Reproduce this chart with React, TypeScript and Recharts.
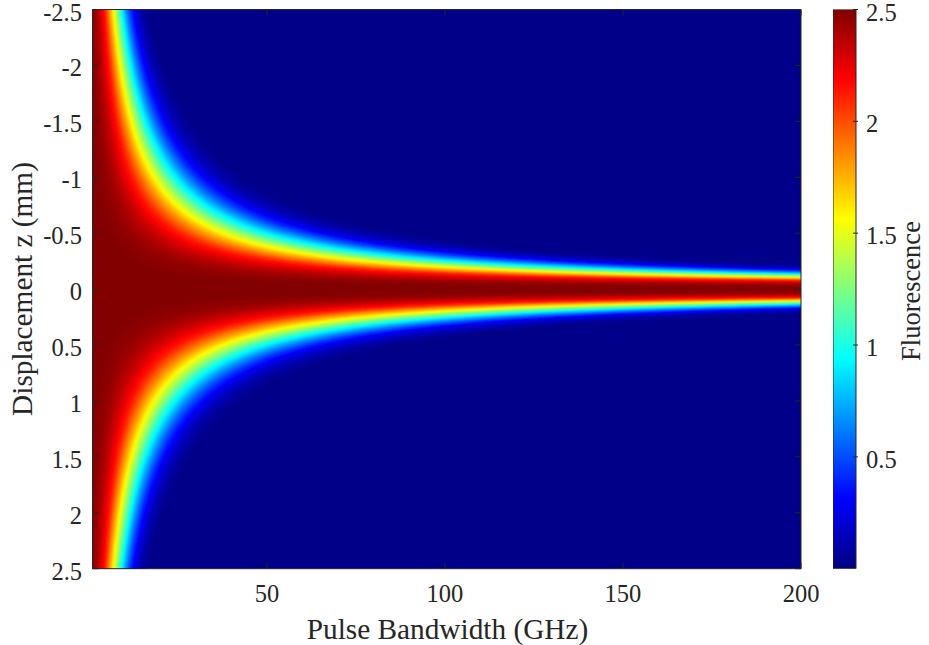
import React from "react";
import {
  Area,
  Bar,
  BarChart,
  CartesianGrid,
  ComposedChart,
  Label,
  ReferenceLine,
  XAxis,
  YAxis,
} from "recharts";

// Sampled pulse bandwidths (GHz) along the horizontal axis
const bandwidthGHz = [
  1, 1.5, 2, 2.5, 3, 3.5, 4, 4.5, 5, 6, 7, 8, 9, 10, 11, 12, 14, 16, 18, 20, 23,
  26, 30, 35, 40, 45, 50, 60, 70, 80, 90, 100, 115, 130, 150, 175, 200,
];

// Half-width (mm) of the yellow (~1.56) fluorescence contour at each bandwidth
const halfWidthMm = [
  9.6, 7.68, 6.4, 5.49, 4.8, 4.27, 3.84, 3.49, 3.2, 2.74, 2.4, 2.13, 1.92,
  1.745, 1.6, 1.477, 1.28, 1.129, 1.011, 0.914, 0.8, 0.711, 0.619, 0.533, 0.468,
  0.417, 0.376, 0.315, 0.27, 0.237, 0.211, 0.19, 0.1655, 0.1466, 0.1272, 0.1091,
  0.0955,
];

// Axial profile: fluorescence level and where it sits, relative to the yellow half-width
const fluorescenceLevels = [
  0.04, 0.08, 0.12, 0.16, 0.2, 0.24, 0.28, 0.32, 0.36, 0.4, 0.44, 0.48, 0.52,
  0.56, 0.6, 0.64, 0.68, 0.72, 0.76, 0.8, 0.84, 0.88, 0.92, 0.96, 1.0, 1.04,
  1.08, 1.12, 1.16, 1.2, 1.24, 1.28, 1.32, 1.36, 1.4, 1.44, 1.48, 1.52, 1.56,
  1.6, 1.64, 1.68, 1.72, 1.76, 1.8, 1.84, 1.88, 1.92, 1.96, 2.0, 2.02, 2.04,
  2.06, 2.08, 2.1, 2.12, 2.14, 2.16, 2.18, 2.2, 2.22, 2.24, 2.26, 2.28, 2.3,
  2.32, 2.34, 2.36, 2.38, 2.4, 2.42, 2.44, 2.46, 2.48, 2.49,
];
const levelOffset = [
  2.235, 2.088, 1.993, 1.921, 1.862, 1.811, 1.766, 1.725, 1.688, 1.653, 1.621,
  1.59, 1.561, 1.534, 1.507, 1.481, 1.457, 1.433, 1.409, 1.386, 1.364, 1.342,
  1.321, 1.3, 1.279, 1.258, 1.238, 1.218, 1.198, 1.178, 1.158, 1.139, 1.119,
  1.099, 1.08, 1.06, 1.04, 1.02, 1.0, 0.98, 0.959, 0.939, 0.918, 0.896, 0.875,
  0.853, 0.83, 0.807, 0.783, 0.758, 0.745, 0.732, 0.719, 0.706, 0.692, 0.678,
  0.663, 0.648, 0.633, 0.617, 0.6, 0.583, 0.565, 0.546, 0.526, 0.505, 0.483,
  0.459, 0.433, 0.404, 0.371, 0.333, 0.287, 0.221, 0.171,
];

const bandwidthTicks = [50, 100, 150, 200];
const displacementTicks = [-2.5, -2, -1.5, -1, -0.5, 0, 0.5, 1, 1.5, 2, 2.5];
const colorbarTicks = [0.5, 1, 1.5, 2, 2.5];

const C_MIN = 0;
const C_MAX = 2.5;

const AXIS = "#262626";
const FONT = '"Liberation Serif", "Times New Roman", serif';
const TICK_FONT = 24.5;
const TITLE_FONT = 29.3;
const BAR_TITLE_FONT = 26.5;

// plot box in page pixels
const PLOT = { left: 92.5, right: 801, top: 9.5, bottom: 568.7 };
const W = 929;
const H = 645;

// MATLAB-style jet colormap, t in [0, 1]
const jet = (t: number) => {
  const ch = (x: number) =>
    Math.round(255 * Math.min(1, Math.max(0, 1.5 - Math.abs(x))));
  return `rgb(${ch(4 * t - 3)},${ch(4 * t - 2)},${ch(4 * t - 1)})`;
};
// each band is painted with the colour halfway up to the next level
const bandColor = (k: number) => {
  const lo = fluorescenceLevels[k];
  const hi = k + 1 < fluorescenceLevels.length ? fluorescenceLevels[k + 1] : C_MAX;
  return jet(((lo + hi) / 2 - C_MIN) / (C_MAX - C_MIN));
};

// one row per bandwidth, one [low, high] band per contour level
const heatRows = bandwidthGHz.map((bw, i) => {
  const row: Record<string, number | number[]> = { bw };
  levelOffset.forEach((u, k) => {
    const h = +(u * halfWidthMm[i]).toFixed(4);
    row[`c${k}`] = [-h, h];
  });
  return row;
});

const colorbarRows = [{ name: "scale", value: C_MAX }];

const BandwidthTick = (props: any) => {
  const { x, payload } = props;
  return (
    <g>
      <line x1={x} x2={x} y1={PLOT.bottom} y2={PLOT.bottom - 6} stroke={AXIS} />
      <line x1={x} x2={x} y1={PLOT.top} y2={PLOT.top + 6} stroke={AXIS} />
      <text
        x={x}
        y={PLOT.bottom + 33}
        textAnchor="middle"
        fontSize={TICK_FONT}
        fontFamily={FONT}
        fill={AXIS}
      >
        {payload.value}
      </text>
    </g>
  );
};

const DisplacementTick = (props: any) => {
  const { y, payload } = props;
  return (
    <g>
      <line x1={PLOT.left} x2={PLOT.left + 6} y1={y} y2={y} stroke={AXIS} />
      <line x1={PLOT.right} x2={PLOT.right - 6} y1={y} y2={y} stroke={AXIS} />
      <text
        x={82}
        y={y + 11}
        textAnchor="end"
        fontSize={TICK_FONT}
        fontFamily={FONT}
        fill={AXIS}
      >
        {payload.value}
      </text>
    </g>
  );
};

const ColorbarTick = (props: any) => {
  const { x, y, payload } = props;
  return (
    <g>
      <line x1={x} x2={x - 5} y1={y} y2={y} stroke={AXIS} />
      <text
        x={x + 8}
        y={y + 11}
        textAnchor="start"
        fontSize={TICK_FONT}
        fontFamily={FONT}
        fill={AXIS}
      >
        {payload.value}
      </text>
    </g>
  );
};

const scaleStops = [0, 1 / 8, 3 / 8, 5 / 8, 7 / 8, 1];

export default function App() {
  return (
    <div
      style={{
        position: "absolute",
        left: 0,
        top: 0,
        width: W,
        height: H,
        background: "#fff",
      }}
    >
      <style>{`.heat-band .recharts-area-area { filter: url(#heatSoft); }`}</style>
      <svg width={0} height={0} style={{ position: "absolute" }}>
        <defs>
          <filter
            id="heatSoft"
            filterUnits="userSpaceOnUse"
            x={0}
            y={0}
            width={W}
            height={H}
          >
            <feGaussianBlur stdDeviation={1.1} />
          </filter>
          <linearGradient id="jetScale" x1="0" y1="1" x2="0" y2="0">
            {scaleStops.map((t) => (
              <stop key={t} offset={t} stopColor={jet(t)} />
            ))}
          </linearGradient>
        </defs>
      </svg>

      <div style={{ position: "absolute", left: 0, top: 0 }}>
        <ComposedChart
          width={W}
          height={H}
          data={heatRows}
          margin={{ top: PLOT.top, right: W - PLOT.right, bottom: H - PLOT.bottom - 30, left: PLOT.left - 60 }}
        >
          <CartesianGrid
            horizontal={false}
            vertical={false}
            fill={jet(0.008)}
            fillOpacity={1}
          />
          {fluorescenceLevels.map((level, k) => (
            <Area
              key={level}
              className="heat-band"
              dataKey={`c${k}`}
              type="monotone"
              stroke="none"
              fill={bandColor(k)}
              fillOpacity={1}
              dot={false}
              activeDot={false}
              isAnimationActive={false}
            />
          ))}
          <XAxis
            dataKey="bw"
            type="number"
            domain={[1, 200]}
            ticks={bandwidthTicks}
            allowDataOverflow
            height={30}
            tickSize={0}
            tickLine={false}
            axisLine={{ stroke: AXIS }}
            tick={<BandwidthTick />}
          >
            <Label
              content={() => (
                <text
                  x={447.5}
                  y={639}
                  textAnchor="middle"
                  fontSize={TITLE_FONT}
                  fontFamily={FONT}
                  fill={AXIS}
                >
                  Pulse Bandwidth (GHz)
                </text>
              )}
            />
          </XAxis>
          <YAxis
            type="number"
            domain={[-2.5, 2.5]}
            reversed
            allowDataOverflow
            ticks={displacementTicks}
            width={60}
            tickSize={0}
            tickLine={false}
            axisLine={{ stroke: AXIS }}
            tick={<DisplacementTick />}
          >
            <Label
              content={() => (
                <text
                  x={31.5}
                  y={289}
                  transform="rotate(-90 31.5 289)"
                  textAnchor="middle"
                  fontSize={TITLE_FONT}
                  fontFamily={FONT}
                  fill={AXIS}
                >
                  Displacement z (mm)
                </text>
              )}
            />
          </YAxis>
          <ReferenceLine y={-2.5} stroke={AXIS} />
          <ReferenceLine x={200} stroke={AXIS} />
        </ComposedChart>
      </div>

      <div style={{ position: "absolute", left: 833, top: 0 }}>
        <BarChart
          width={96}
          height={H}
          data={colorbarRows}
          barCategoryGap={0}
          margin={{ top: PLOT.top, right: 23, bottom: H - PLOT.bottom, left: 0 }}
        >
          <XAxis dataKey="name" hide />
          <YAxis
            orientation="right"
            type="number"
            domain={[C_MIN, C_MAX]}
            ticks={colorbarTicks}
            allowDataOverflow
            width={50}
            tickSize={0}
            tickLine={false}
            axisLine={false}
            tick={<ColorbarTick />}
          >
            <Label
              content={() => (
                <text
                  x={87}
                  y={291}
                  transform="rotate(-90 87 291)"
                  textAnchor="middle"
                  fontSize={BAR_TITLE_FONT}
                  fontFamily={FONT}
                  fill={AXIS}
                >
                  Fluorescence
                </text>
              )}
            />
          </YAxis>
          <Bar
            dataKey="value"
            fill="url(#jetScale)"
            stroke={AXIS}
            strokeWidth={1}
            isAnimationActive={false}
          />
        </BarChart>
      </div>
    </div>
  );
}
